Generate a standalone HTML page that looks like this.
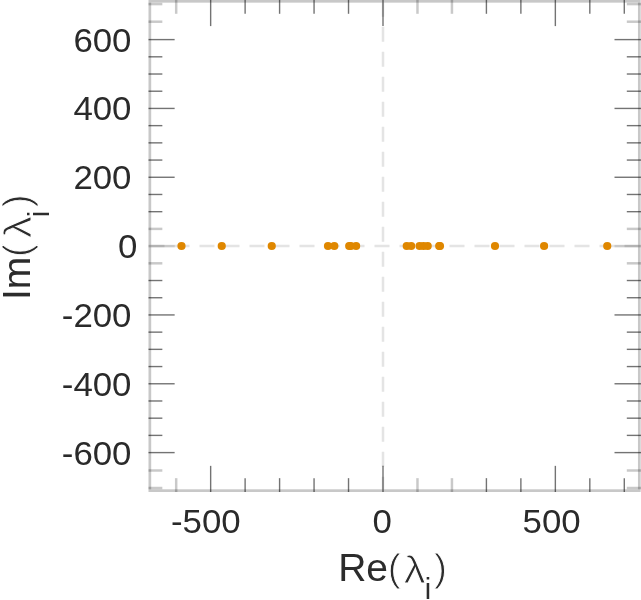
<!DOCTYPE html>
<html lang="en"><head><meta charset="utf-8"><title>Eigenvalue plot</title>
<style>html,body{margin:0;padding:0;background:#fff;overflow:hidden}svg{display:block}text{font-family:"Liberation Sans",sans-serif}</style>
</head><body>
<svg width="641" height="600" viewBox="0 0 641 600">
<rect width="641" height="600" fill="#fff"/>
<line x1="149.5" y1="246.1" x2="639.3" y2="246.1" stroke="#e4e4e4" stroke-width="2.5" stroke-dasharray="15 10"/>
<line x1="383.0" y1="1.8" x2="383.0" y2="490.65" stroke="#e4e4e4" stroke-width="2.5" stroke-dasharray="15 10"/>
<rect x="149.85" y="1.3" width="489.44999999999993" height="489.34999999999997" fill="none" stroke="#c8c8c8" stroke-width="2.7"/>
<line x1="148.50" y1="488.00" x2="162.35" y2="488.00" stroke="rgba(0,0,0,0.21)" stroke-width="2.5"/>
<line x1="641" y1="488.00" x2="626.80" y2="488.00" stroke="rgba(0,0,0,0.21)" stroke-width="2.5"/>
<line x1="148.50" y1="470.50" x2="162.35" y2="470.50" stroke="rgba(0,0,0,0.21)" stroke-width="2.5"/>
<line x1="641" y1="470.50" x2="626.80" y2="470.50" stroke="rgba(0,0,0,0.21)" stroke-width="2.5"/>
<line x1="148.50" y1="452.60" x2="174.65" y2="452.60" stroke="rgba(0,0,0,0.55)" stroke-width="1.4"/>
<line x1="641" y1="452.60" x2="614.50" y2="452.60" stroke="rgba(0,0,0,0.55)" stroke-width="1.4"/>
<line x1="148.50" y1="435.39" x2="162.35" y2="435.39" stroke="rgba(0,0,0,0.55)" stroke-width="1.4"/>
<line x1="641" y1="435.39" x2="626.80" y2="435.39" stroke="rgba(0,0,0,0.55)" stroke-width="1.4"/>
<line x1="148.50" y1="418.18" x2="162.35" y2="418.18" stroke="rgba(0,0,0,0.55)" stroke-width="1.4"/>
<line x1="641" y1="418.18" x2="626.80" y2="418.18" stroke="rgba(0,0,0,0.55)" stroke-width="1.4"/>
<line x1="148.50" y1="400.98" x2="162.35" y2="400.98" stroke="rgba(0,0,0,0.55)" stroke-width="1.4"/>
<line x1="641" y1="400.98" x2="626.80" y2="400.98" stroke="rgba(0,0,0,0.55)" stroke-width="1.4"/>
<line x1="148.50" y1="383.77" x2="174.65" y2="383.77" stroke="rgba(0,0,0,0.55)" stroke-width="1.4"/>
<line x1="641" y1="383.77" x2="614.50" y2="383.77" stroke="rgba(0,0,0,0.55)" stroke-width="1.4"/>
<line x1="148.50" y1="366.56" x2="162.35" y2="366.56" stroke="rgba(0,0,0,0.55)" stroke-width="1.4"/>
<line x1="641" y1="366.56" x2="626.80" y2="366.56" stroke="rgba(0,0,0,0.55)" stroke-width="1.4"/>
<line x1="148.50" y1="349.35" x2="162.35" y2="349.35" stroke="rgba(0,0,0,0.55)" stroke-width="1.4"/>
<line x1="641" y1="349.35" x2="626.80" y2="349.35" stroke="rgba(0,0,0,0.55)" stroke-width="1.4"/>
<line x1="148.50" y1="332.14" x2="162.35" y2="332.14" stroke="rgba(0,0,0,0.55)" stroke-width="1.4"/>
<line x1="641" y1="332.14" x2="626.80" y2="332.14" stroke="rgba(0,0,0,0.55)" stroke-width="1.4"/>
<line x1="148.50" y1="314.93" x2="174.65" y2="314.93" stroke="rgba(0,0,0,0.55)" stroke-width="1.4"/>
<line x1="641" y1="314.93" x2="614.50" y2="314.93" stroke="rgba(0,0,0,0.55)" stroke-width="1.4"/>
<line x1="148.50" y1="297.73" x2="162.35" y2="297.73" stroke="rgba(0,0,0,0.55)" stroke-width="1.4"/>
<line x1="641" y1="297.73" x2="626.80" y2="297.73" stroke="rgba(0,0,0,0.55)" stroke-width="1.4"/>
<line x1="148.50" y1="280.52" x2="162.35" y2="280.52" stroke="rgba(0,0,0,0.55)" stroke-width="1.4"/>
<line x1="641" y1="280.52" x2="626.80" y2="280.52" stroke="rgba(0,0,0,0.55)" stroke-width="1.4"/>
<line x1="148.50" y1="263.31" x2="162.35" y2="263.31" stroke="rgba(0,0,0,0.21)" stroke-width="2.5"/>
<line x1="641" y1="263.31" x2="626.80" y2="263.31" stroke="rgba(0,0,0,0.21)" stroke-width="2.5"/>
<line x1="148.50" y1="246.10" x2="174.65" y2="246.10" stroke="rgba(0,0,0,0.21)" stroke-width="2.5"/>
<line x1="641" y1="246.10" x2="614.50" y2="246.10" stroke="rgba(0,0,0,0.21)" stroke-width="2.5"/>
<line x1="148.50" y1="228.89" x2="162.35" y2="228.89" stroke="rgba(0,0,0,0.21)" stroke-width="2.5"/>
<line x1="641" y1="228.89" x2="626.80" y2="228.89" stroke="rgba(0,0,0,0.21)" stroke-width="2.5"/>
<line x1="148.50" y1="211.68" x2="162.35" y2="211.68" stroke="rgba(0,0,0,0.55)" stroke-width="1.4"/>
<line x1="641" y1="211.68" x2="626.80" y2="211.68" stroke="rgba(0,0,0,0.55)" stroke-width="1.4"/>
<line x1="148.50" y1="194.47" x2="162.35" y2="194.47" stroke="rgba(0,0,0,0.55)" stroke-width="1.4"/>
<line x1="641" y1="194.47" x2="626.80" y2="194.47" stroke="rgba(0,0,0,0.55)" stroke-width="1.4"/>
<line x1="148.50" y1="177.27" x2="174.65" y2="177.27" stroke="rgba(0,0,0,0.55)" stroke-width="1.4"/>
<line x1="641" y1="177.27" x2="614.50" y2="177.27" stroke="rgba(0,0,0,0.55)" stroke-width="1.4"/>
<line x1="148.50" y1="160.06" x2="162.35" y2="160.06" stroke="rgba(0,0,0,0.55)" stroke-width="1.4"/>
<line x1="641" y1="160.06" x2="626.80" y2="160.06" stroke="rgba(0,0,0,0.55)" stroke-width="1.4"/>
<line x1="148.50" y1="142.85" x2="162.35" y2="142.85" stroke="rgba(0,0,0,0.55)" stroke-width="1.4"/>
<line x1="641" y1="142.85" x2="626.80" y2="142.85" stroke="rgba(0,0,0,0.55)" stroke-width="1.4"/>
<line x1="148.50" y1="125.64" x2="162.35" y2="125.64" stroke="rgba(0,0,0,0.55)" stroke-width="1.4"/>
<line x1="641" y1="125.64" x2="626.80" y2="125.64" stroke="rgba(0,0,0,0.55)" stroke-width="1.4"/>
<line x1="148.50" y1="108.43" x2="174.65" y2="108.43" stroke="rgba(0,0,0,0.55)" stroke-width="1.4"/>
<line x1="641" y1="108.43" x2="614.50" y2="108.43" stroke="rgba(0,0,0,0.55)" stroke-width="1.4"/>
<line x1="148.50" y1="91.22" x2="162.35" y2="91.22" stroke="rgba(0,0,0,0.55)" stroke-width="1.4"/>
<line x1="641" y1="91.22" x2="626.80" y2="91.22" stroke="rgba(0,0,0,0.55)" stroke-width="1.4"/>
<line x1="148.50" y1="74.02" x2="162.35" y2="74.02" stroke="rgba(0,0,0,0.55)" stroke-width="1.4"/>
<line x1="641" y1="74.02" x2="626.80" y2="74.02" stroke="rgba(0,0,0,0.55)" stroke-width="1.4"/>
<line x1="148.50" y1="56.81" x2="162.35" y2="56.81" stroke="rgba(0,0,0,0.55)" stroke-width="1.4"/>
<line x1="641" y1="56.81" x2="626.80" y2="56.81" stroke="rgba(0,0,0,0.55)" stroke-width="1.4"/>
<line x1="148.50" y1="39.60" x2="174.65" y2="39.60" stroke="rgba(0,0,0,0.55)" stroke-width="1.4"/>
<line x1="641" y1="39.60" x2="614.50" y2="39.60" stroke="rgba(0,0,0,0.55)" stroke-width="1.4"/>
<line x1="148.50" y1="21.70" x2="162.35" y2="21.70" stroke="rgba(0,0,0,0.21)" stroke-width="2.5"/>
<line x1="641" y1="21.70" x2="626.80" y2="21.70" stroke="rgba(0,0,0,0.21)" stroke-width="2.5"/>
<line x1="148.50" y1="4.10" x2="162.35" y2="4.10" stroke="rgba(0,0,0,0.21)" stroke-width="2.5"/>
<line x1="641" y1="4.10" x2="626.80" y2="4.10" stroke="rgba(0,0,0,0.21)" stroke-width="2.5"/>
<line x1="176.18" y1="0" x2="176.18" y2="13.80" stroke="rgba(0,0,0,0.21)" stroke-width="2.5"/>
<line x1="176.18" y1="492.00" x2="176.18" y2="478.15" stroke="rgba(0,0,0,0.21)" stroke-width="2.5"/>
<line x1="210.65" y1="0" x2="210.65" y2="26.10" stroke="rgba(0,0,0,0.55)" stroke-width="1.4"/>
<line x1="210.65" y1="492.00" x2="210.65" y2="465.85" stroke="rgba(0,0,0,0.55)" stroke-width="1.4"/>
<line x1="245.12" y1="0" x2="245.12" y2="13.80" stroke="rgba(0,0,0,0.55)" stroke-width="1.4"/>
<line x1="245.12" y1="492.00" x2="245.12" y2="478.15" stroke="rgba(0,0,0,0.55)" stroke-width="1.4"/>
<line x1="279.59" y1="0" x2="279.59" y2="13.80" stroke="rgba(0,0,0,0.55)" stroke-width="1.4"/>
<line x1="279.59" y1="492.00" x2="279.59" y2="478.15" stroke="rgba(0,0,0,0.55)" stroke-width="1.4"/>
<line x1="314.06" y1="0" x2="314.06" y2="13.80" stroke="rgba(0,0,0,0.55)" stroke-width="1.4"/>
<line x1="314.06" y1="492.00" x2="314.06" y2="478.15" stroke="rgba(0,0,0,0.55)" stroke-width="1.4"/>
<line x1="348.53" y1="0" x2="348.53" y2="13.80" stroke="rgba(0,0,0,0.55)" stroke-width="1.4"/>
<line x1="348.53" y1="492.00" x2="348.53" y2="478.15" stroke="rgba(0,0,0,0.55)" stroke-width="1.4"/>
<line x1="383.00" y1="0" x2="383.00" y2="26.10" stroke="rgba(0,0,0,0.55)" stroke-width="1.4"/>
<line x1="383.00" y1="492.00" x2="383.00" y2="465.85" stroke="rgba(0,0,0,0.55)" stroke-width="1.4"/>
<line x1="417.47" y1="0" x2="417.47" y2="13.80" stroke="rgba(0,0,0,0.21)" stroke-width="2.5"/>
<line x1="417.47" y1="492.00" x2="417.47" y2="478.15" stroke="rgba(0,0,0,0.21)" stroke-width="2.5"/>
<line x1="451.94" y1="0" x2="451.94" y2="13.80" stroke="rgba(0,0,0,0.21)" stroke-width="2.5"/>
<line x1="451.94" y1="492.00" x2="451.94" y2="478.15" stroke="rgba(0,0,0,0.21)" stroke-width="2.5"/>
<line x1="486.41" y1="0" x2="486.41" y2="13.80" stroke="rgba(0,0,0,0.55)" stroke-width="1.4"/>
<line x1="486.41" y1="492.00" x2="486.41" y2="478.15" stroke="rgba(0,0,0,0.55)" stroke-width="1.4"/>
<line x1="520.88" y1="0" x2="520.88" y2="13.80" stroke="rgba(0,0,0,0.55)" stroke-width="1.4"/>
<line x1="520.88" y1="492.00" x2="520.88" y2="478.15" stroke="rgba(0,0,0,0.55)" stroke-width="1.4"/>
<line x1="555.35" y1="0" x2="555.35" y2="26.10" stroke="rgba(0,0,0,0.55)" stroke-width="1.4"/>
<line x1="555.35" y1="492.00" x2="555.35" y2="465.85" stroke="rgba(0,0,0,0.55)" stroke-width="1.4"/>
<line x1="589.82" y1="0" x2="589.82" y2="13.80" stroke="rgba(0,0,0,0.55)" stroke-width="1.4"/>
<line x1="589.82" y1="492.00" x2="589.82" y2="478.15" stroke="rgba(0,0,0,0.55)" stroke-width="1.4"/>
<line x1="624.29" y1="0" x2="624.29" y2="13.80" stroke="rgba(0,0,0,0.55)" stroke-width="1.4"/>
<line x1="624.29" y1="492.00" x2="624.29" y2="478.15" stroke="rgba(0,0,0,0.55)" stroke-width="1.4"/>
<circle cx="181.5" cy="246" r="4.1" fill="#df8700"/>
<circle cx="221.75" cy="246" r="4.1" fill="#df8700"/>
<circle cx="271.75" cy="246" r="4.1" fill="#df8700"/>
<circle cx="328.0" cy="246" r="4.1" fill="#df8700"/>
<circle cx="334.3" cy="246" r="4.1" fill="#df8700"/>
<circle cx="349.2" cy="246" r="4.1" fill="#df8700"/>
<circle cx="350.8" cy="246" r="4.1" fill="#df8700"/>
<circle cx="356.1" cy="246" r="4.1" fill="#df8700"/>
<circle cx="406.75" cy="246" r="4.1" fill="#df8700"/>
<circle cx="411.2" cy="246" r="4.1" fill="#df8700"/>
<circle cx="419.6" cy="246" r="4.1" fill="#df8700"/>
<circle cx="423.5" cy="246" r="4.1" fill="#df8700"/>
<circle cx="427.7" cy="246" r="4.1" fill="#df8700"/>
<circle cx="439.2" cy="246" r="4.1" fill="#df8700"/>
<circle cx="440.0" cy="246" r="4.1" fill="#df8700"/>
<circle cx="495" cy="246" r="4.1" fill="#df8700"/>
<circle cx="544.1" cy="246" r="4.1" fill="#df8700"/>
<circle cx="607.25" cy="246" r="4.1" fill="#df8700"/>
<text x="126.44" y="51.59" font-size="33.5" fill="#2a2a2a" text-anchor="end" transform="scale(1.04,1)">600</text>
<text x="126.44" y="120.43" font-size="33.5" fill="#2a2a2a" text-anchor="end" transform="scale(1.04,1)">400</text>
<text x="126.44" y="189.26" font-size="33.5" fill="#2a2a2a" text-anchor="end" transform="scale(1.04,1)">200</text>
<text x="126.44" y="326.93" font-size="33.5" fill="#2a2a2a" text-anchor="end" transform="scale(1.04,1)">-200</text>
<text x="126.44" y="395.76" font-size="33.5" fill="#2a2a2a" text-anchor="end" transform="scale(1.04,1)">-400</text>
<text x="126.44" y="464.59" font-size="33.5" fill="#2a2a2a" text-anchor="end" transform="scale(1.04,1)">-600</text>
<text x="132.21" y="258.09" font-size="33.5" fill="#2a2a2a" text-anchor="end" transform="scale(1.04,1)">0</text>
<text x="197.88" y="533.19" font-size="33.5" fill="#2a2a2a" text-anchor="middle" transform="scale(1.04,1)">-500</text>
<text x="367.60" y="533.19" font-size="33.5" fill="#2a2a2a" text-anchor="middle" transform="scale(1.04,1)">0</text>
<text x="530.38" y="533.19" font-size="33.5" fill="#2a2a2a" text-anchor="middle" transform="scale(1.04,1)">500</text>
<g transform="translate(338.2,581.3)"><g font-size="39" fill="#2c2c2c"><text x="0" y="0">Re<tspan x="49.6" stroke="#fff" stroke-width="0.9">(</tspan></text><text x="58.48" y="1.5" stroke="#fff" stroke-width="0.9" transform="scale(1.12,1)">λ</text><text x="86.5" y="17.5" font-size="28.9">i</text><text x="95.8" y="0" stroke="#fff" stroke-width="0.9">)</text></g></g>
<g transform="translate(29.6,301.8) rotate(-90)"><g font-size="39" fill="#2c2c2c"><text x="1.8" y="0">Im<tspan x="44.8" stroke="#fff" stroke-width="0.9">(</tspan></text><text x="56.96" y="1.5" stroke="#fff" stroke-width="0.9" transform="scale(1.12,1)">λ</text><text x="84.6" y="19.3" font-size="28.9">i</text><text x="94.5" y="0" stroke="#fff" stroke-width="0.9">)</text></g></g>
</svg>
</body></html>
